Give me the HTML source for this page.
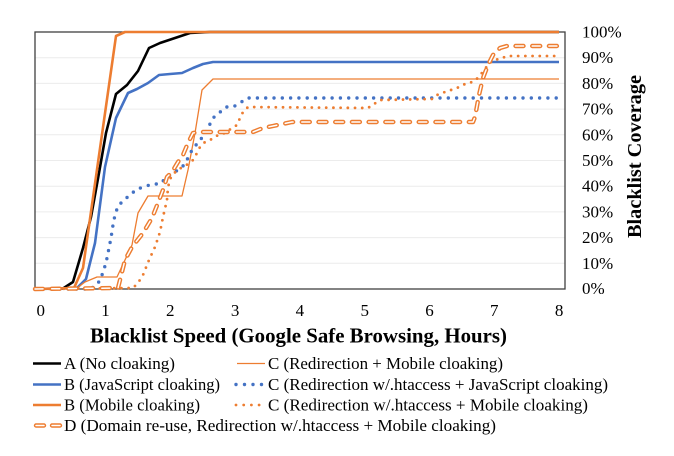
<!DOCTYPE html>
<html><head><meta charset="utf-8"><style>
html,body{margin:0;padding:0;background:#fff;}
svg{display:block;}
text{font-family:"Liberation Serif",serif;fill:#000;}
</style></head><body>
<svg width="674" height="456" viewBox="0 0 674 456" xmlns="http://www.w3.org/2000/svg">
<rect x="0" y="0" width="674" height="456" fill="#fff"/>
<!-- gridlines -->
<g stroke="#ececec" stroke-width="1">
<line x1="35" x2="565" y1="263.3" y2="263.3"/>
<line x1="35" x2="565" y1="237.6" y2="237.6"/>
<line x1="35" x2="565" y1="211.9" y2="211.9"/>
<line x1="35" x2="565" y1="186.2" y2="186.2"/>
<line x1="35" x2="565" y1="160.5" y2="160.5"/>
<line x1="35" x2="565" y1="134.8" y2="134.8"/>
<line x1="35" x2="565" y1="109.1" y2="109.1"/>
<line x1="35" x2="565" y1="83.4" y2="83.4"/>
<line x1="35" x2="565" y1="57.7" y2="57.7"/>
</g>
<rect x="35" y="32" width="530" height="257" fill="none" stroke="#404040" stroke-width="1.3"/>

<g fill="none" stroke-linejoin="round">
<!-- A black -->
<path d="M35,289 L63,288.5 L73,282 L83,248 L91,217 L99,173 L106,133 L116,94 L127,85 L138,71 L149,48 L160,43 L172,39 L190,33 L210,32 L559,32" stroke="#000" stroke-width="2.6"/>
<!-- B JS blue -->
<path d="M35,289 L77,288 L86,279 L95,243 L105,167 L116,118 L128,93 L137,89 L148,83 L159,75 L170,74 L182,73 L193,68 L203,64 L213,62 L559,62" stroke="#4472C4" stroke-width="2.6"/>
<!-- B Mobile orange -->
<path d="M35,289 L74,288 L83,268 L116,36 L125,32 L559,32" stroke="#ED7D31" stroke-width="2.6"/>
<!-- C thin orange -->
<path d="M35,289 L77,288 L85,282 L97,277 L117,277 L132,245 L138,213 L148,196 L182,196 L188,170 L195,133 L202,90 L213,79 L559,79" stroke="#ED7D31" stroke-width="1.3"/>
<!-- C dotted blue -->
<path d="M35,289 L90,289 L97,285 L101,278 L106,263 L108,253 L111,238 L113,225 L115,215 L118,206 L124,200 L130,195 L137,189 L144,187 L152,184 L160,184 L167,177 L173,173 L178,170 L183,166 L188,158 L193,148 L199,142 L207,130 L213,118 L219,113 L226,107 L233,107 L240,103 L247,98 L559,98" stroke="#4472C4" stroke-width="3.4" stroke-linecap="round" stroke-dasharray="0 8.3"/>
<!-- C dotted orange -->
<path d="M35,289 L133,288 L138,283 L143,275 L149,260 L155,247 L160,232 L163,217 L167,200 L168,187 L171,177 L177,170 L183,167 L188,164 L193,160 L197,153 L200,147 L205,142 L212,139 L218,135 L225,133 L232,128 L237,125 L240,118 L243,112 L248,107 L368,108 L374,104 L380,100 L432,99 L437,95 L445,92 L457,88 L467,83 L473,82 L479,77 L484,70 L489,64 L493,60 L500,59 L507,56 L559,56" stroke="#ED7D31" stroke-width="2.8" stroke-linecap="round" stroke-dasharray="0 7.2"/>
<!-- D dashed double -->
<path id="dpath" d="M35,289 L118,288 L125,260 L132,247 L143,233 L152,218 L158,203 L163,190 L167,177 L172,172 L178,162 L183,155 L188,143 L193,133 L200,132 L253,132 L263,128 L273,126 L292,122 L473,122 L475,117 L479,95 L483,78 L488,65 L493,55 L500,48 L507,46 L559,46" stroke="#ED7D31" stroke-width="4.4" stroke-linecap="round" stroke-dasharray="8 8.7"/>
<path d="M35,289 L118,288 L125,260 L132,247 L143,233 L152,218 L158,203 L163,190 L167,177 L172,172 L178,162 L183,155 L188,143 L193,133 L200,132 L253,132 L263,128 L273,126 L292,122 L473,122 L475,117 L479,95 L483,78 L488,65 L493,55 L500,48 L507,46 L559,46" stroke="#fff" stroke-width="1.5" stroke-linecap="round" stroke-dasharray="8 8.7"/>
</g>

<!-- y labels -->
<g font-size="17">
<text x="582" y="37.5">100%</text>
<text x="582" y="63.2">90%</text>
<text x="582" y="88.9">80%</text>
<text x="582" y="114.6">70%</text>
<text x="582" y="140.3">60%</text>
<text x="582" y="166">50%</text>
<text x="582" y="191.7">40%</text>
<text x="582" y="217.4">30%</text>
<text x="582" y="243.1">20%</text>
<text x="582" y="268.8">10%</text>
<text x="582" y="294">0%</text>
</g>
<!-- x labels -->
<g font-size="17" text-anchor="middle">
<text x="40.7" y="316">0</text>
<text x="105.5" y="316">1</text>
<text x="170.3" y="316">2</text>
<text x="235.1" y="316">3</text>
<text x="299.9" y="316">4</text>
<text x="364.7" y="316">5</text>
<text x="429.5" y="316">6</text>
<text x="494.3" y="316">7</text>
<text x="559.1" y="316">8</text>
</g>
<text x="90" y="342.5" font-size="21" font-weight="bold" textLength="417" lengthAdjust="spacingAndGlyphs">Blacklist Speed (Google Safe Browsing, Hours)</text>
<text transform="translate(641,156.5) rotate(-90)" text-anchor="middle" font-size="20" font-weight="bold" textLength="163" lengthAdjust="spacingAndGlyphs">Blacklist Coverage</text>

<!-- legend -->
<g fill="none">
<line x1="33" x2="61" y1="363.5" y2="363.5" stroke="#000" stroke-width="2.6"/>
<line x1="33" x2="61" y1="384.5" y2="384.5" stroke="#4472C4" stroke-width="2.6"/>
<line x1="33" x2="61" y1="405" y2="405" stroke="#ED7D31" stroke-width="2.6"/>
<line x1="36" x2="44" y1="425.5" y2="425.5" stroke="#ED7D31" stroke-width="4.4" stroke-linecap="round"/>
<line x1="52" x2="60" y1="425.5" y2="425.5" stroke="#ED7D31" stroke-width="4.4" stroke-linecap="round"/>
<line x1="36" x2="44" y1="425.5" y2="425.5" stroke="#fff" stroke-width="1.5" stroke-linecap="round"/>
<line x1="52" x2="60" y1="425.5" y2="425.5" stroke="#fff" stroke-width="1.5" stroke-linecap="round"/>
<line x1="237" x2="265" y1="363.5" y2="363.5" stroke="#ED7D31" stroke-width="1.3"/>
<line x1="236" x2="262" y1="384.5" y2="384.5" stroke="#4472C4" stroke-width="3.4" stroke-linecap="round" stroke-dasharray="0 8.5"/>
<line x1="236" x2="260" y1="405" y2="405" stroke="#ED7D31" stroke-width="2.8" stroke-linecap="round" stroke-dasharray="0 7.7"/>
</g>
<g font-size="17">
<text x="64" y="369" textLength="111" lengthAdjust="spacingAndGlyphs">A (No cloaking)</text>
<text x="64" y="390" textLength="156" lengthAdjust="spacingAndGlyphs">B (JavaScript cloaking)</text>
<text x="64" y="410.5" textLength="136" lengthAdjust="spacingAndGlyphs">B (Mobile cloaking)</text>
<text x="64" y="431" textLength="432" lengthAdjust="spacingAndGlyphs">D (Domain re-use, Redirection w/.htaccess + Mobile cloaking)</text>
<text x="268" y="369" textLength="235" lengthAdjust="spacingAndGlyphs">C (Redirection + Mobile cloaking)</text>
<text x="268" y="390" textLength="340" lengthAdjust="spacingAndGlyphs">C (Redirection w/.htaccess + JavaScript cloaking)</text>
<text x="268" y="410.5" textLength="320" lengthAdjust="spacingAndGlyphs">C (Redirection w/.htaccess + Mobile cloaking)</text>
</g>
</svg>
</body></html>
